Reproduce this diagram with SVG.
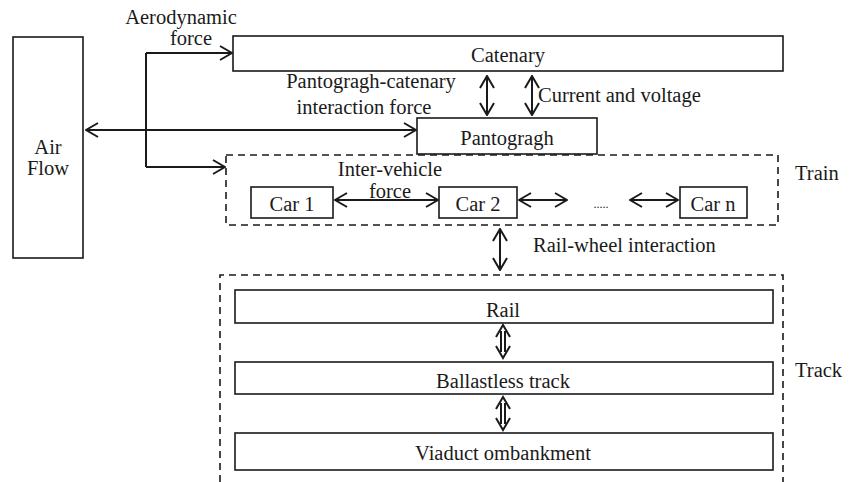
<svg xmlns="http://www.w3.org/2000/svg" width="856" height="482" viewBox="0 0 856 482">
<style>
text{font-family:"Liberation Serif","Times New Roman",serif;font-size:20.5px;fill:#1a1a1a}
.c{text-anchor:middle}
.box{fill:#fff;stroke:#1a1a1a;stroke-width:1.6}
.dash{fill:none;stroke:#1a1a1a;stroke-width:1.6;stroke-dasharray:7 5}
.ln{fill:none;stroke:#1a1a1a;stroke-width:2}
.da{fill:none;stroke:#1a1a1a;stroke-width:2;marker-start:url(#ah);marker-end:url(#ah)}
.sa{fill:none;stroke:#1a1a1a;stroke-width:2;marker-end:url(#ah)}
</style>
<defs>
<marker id="ah" viewBox="0 0 14 16" refX="13" refY="8" markerWidth="14" markerHeight="16" markerUnits="userSpaceOnUse" orient="auto-start-reverse">
<path d="M1,1 L13,8 L1,15" fill="none" stroke="#1a1a1a" stroke-width="2"/>
</marker>
</defs>
<g id="airflow"><rect class="box" x="13" y="37" width="70" height="221"/><text class="c" x="48" y="154">Air</text><text class="c" x="48" y="175">Flow</text></g>
<g id="catenary"><rect class="box" x="233" y="36" width="550" height="35"/><text class="c" x="508" y="62">Catenary</text></g>
<g id="pantograph"><rect class="box" x="417" y="118" width="180" height="36"/><text class="c" x="507" y="145">Pantogragh</text></g>
<g id="train"><rect class="dash" x="226" y="155" width="552" height="70"/><text x="795" y="180">Train</text></g>
<g id="car1"><rect class="box" x="251" y="187" width="82" height="31"/><text class="c" x="292" y="211">Car 1</text></g>
<g id="car2"><rect class="box" x="439" y="187" width="78" height="31"/><text class="c" x="478" y="211">Car 2</text></g>
<g id="dots"><text class="c" x="601" y="208" style="font-size:12px">.....</text></g>
<g id="carn"><rect class="box" x="680" y="187" width="67" height="31"/><text class="c" x="713" y="211">Car n</text></g>
<g id="track"><path class="dash" d="M220,482 V275 H783 V482"/><text x="795" y="377">Track</text></g>
<g id="rail"><rect class="box" x="235" y="290" width="538" height="33"/><text class="c" x="503" y="317">Rail</text></g>
<g id="ballastless"><rect class="box" x="235" y="362" width="538" height="32"/><text class="c" x="503" y="388">Ballastless track</text></g>
<g id="viaduct"><rect class="box" x="235" y="433" width="538" height="37"/><text class="c" x="503" y="460">Viaduct ombankment</text></g>
<g id="connectors">
<path class="ln" d="M146,53 V167"/>
<path class="sa" d="M146,53 H232"/>
<path class="sa" d="M146,167 H225"/>
<path class="da" d="M86,130 H416"/>
<path class="da" d="M487,76 V115"/>
<path class="da" d="M532,76 V115"/>
<path class="da" d="M335,200 H438"/>
<path class="da" d="M519,200 H567"/>
<path class="da" d="M630,200 H678"/>
<path class="da" d="M500,229 V270"/>
<path class="ln" d="M496,337 L503,325 L510,337 M496,346 L503,358 L510,346 M501,331 V352 M505,331 V352"/>
<path class="ln" d="M496,409 L503,397 L510,409 M496,418 L503,430 L510,418 M501,403 V424 M505,403 V424"/>
</g>
<g id="labels">
<text class="c" x="181" y="24">Aerodynamic</text>
<text class="c" x="191" y="45">force</text>
<text class="c" x="371" y="88">Pantogragh-catenary</text>
<text class="c" x="364" y="114">interaction force</text>
<text x="538" y="102">Current and voltage</text>
<text class="c" x="390" y="176">Inter-vehicle</text>
<text class="c" x="390" y="198">force</text>
<text x="533" y="252">Rail-wheel interaction</text>
</g>
</svg>
